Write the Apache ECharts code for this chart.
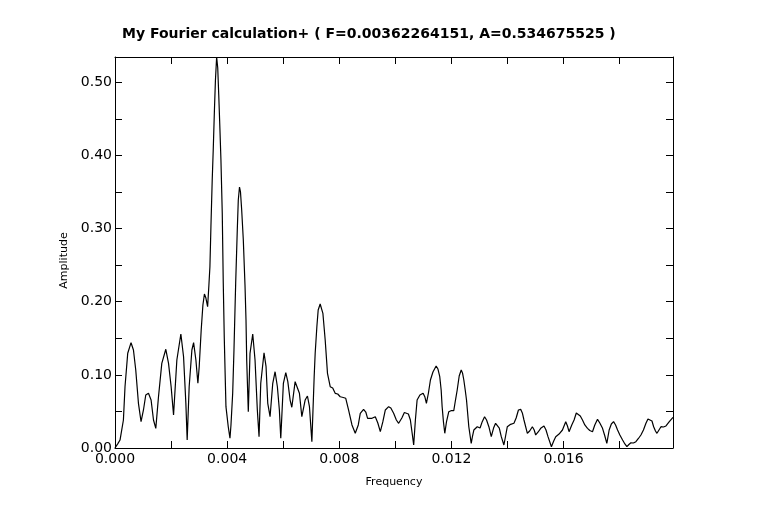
<!DOCTYPE html>
<html>
<head>
<meta charset="utf-8">
<script src="https://cdn.jsdelivr.net/npm/echarts@6/dist/echarts.min.js"></script>
<style>
html,body{margin:0;padding:0;background:#fff;}
#chart{width:757px;height:522px;}
</style>
</head>
<body>
<div id="chart"></div>
<script>
var titleText = 'My Fourier calculation+ ( F=0.00362264151, A=0.534675525 )';
var xName = 'Frequency';
var yName = 'Amplitude';
var xMax = 0.0199;
var yMax = 0.534676;

var freq = [
0.000000,0.000107,0.000179,0.000300,0.000357,0.000454,0.000572,0.000658,0.000740,0.000836,
0.000929,0.001015,0.001097,0.001194,0.001287,0.001373,0.001455,0.001551,0.001669,0.001812,
0.001909,0.002002,0.002088,0.002206,0.002349,0.002445,0.002527,0.002574,0.002645,0.002742,
0.002803,0.002885,0.002956,0.003003,0.003074,0.003135,0.003189,0.003242,0.003303,0.003349,
0.003385,0.003421,0.003467,0.003503,0.003546,0.003582,0.003625,0.003664,0.003700,0.003743,
0.003778,0.003825,0.003861,0.003896,0.003929,0.003957,0.004039,0.004100,0.004136,0.004197,
0.004243,0.004279,0.004304,0.004361,0.004397,0.004440,0.004475,0.004518,0.004576,0.004636,
0.004672,0.004697,0.004754,0.004815,0.004912,0.004994,0.005076,0.005137,0.005198,0.005315,
0.005387,0.005448,0.005530,0.005626,0.005709,0.005791,0.005862,0.005912,0.006005,0.006091,
0.006163,0.006245,0.006306,0.006424,0.006484,0.006577,0.006663,0.006781,0.006863,0.006935,
0.007021,0.007103,0.007139,0.007199,0.007246,0.007317,0.007364,0.007414,0.007496,0.007578,
0.007675,0.007764,0.007853,0.007943,0.008032,0.008139,0.008229,0.008329,0.008451,0.008568,
0.008676,0.008747,0.008865,0.008944,0.009008,0.009165,0.009283,0.009373,0.009462,0.009551,
0.009641,0.009759,0.009837,0.009937,0.010034,0.010116,0.010230,0.010320,0.010391,0.010463,
0.010534,0.010606,0.010652,0.010713,0.010774,0.010874,0.010988,0.011053,0.011106,0.011178,
0.011249,0.011339,0.011453,0.011518,0.011582,0.011632,0.011667,0.011714,0.011761,0.011821,
0.011904,0.012000,0.012082,0.012143,0.012204,0.012275,0.012347,0.012393,0.012440,0.012490,
0.012536,0.012618,0.012704,0.012751,0.012797,0.012919,0.013019,0.013097,0.013180,0.013251,
0.013333,0.013419,0.013501,0.013573,0.013633,0.013705,0.013776,0.013869,0.013930,0.013991,
0.014109,0.014227,0.014306,0.014388,0.014467,0.014527,0.014585,0.014706,0.014788,0.014885,
0.014950,0.015003,0.015092,0.015181,0.015299,0.015371,0.015442,0.015564,0.015646,0.015718,
0.015836,0.015957,0.016075,0.016136,0.016193,0.016290,0.016372,0.016451,0.016515,0.016594,
0.016672,0.016755,0.016851,0.016933,0.017029,0.017111,0.017208,0.017290,0.017387,0.017469,
0.017540,0.017623,0.017701,0.017780,0.017852,0.017923,0.018005,0.018102,0.018184,0.018256,
0.018327,0.018399,0.018488,0.018577,0.018667,0.018756,0.018846,0.018935,0.019007,0.019078,
0.019150,0.019210,0.019275,0.019328,0.019400,0.019471,0.019560,0.019650,0.019768,0.019900
];

var amp = [
0.0000,0.0064,0.0109,0.0383,0.0838,0.1295,0.1440,0.1340,0.1067,0.0611,
0.0360,0.0520,0.0725,0.0748,0.0656,0.0383,0.0269,0.0701,0.1158,0.1350,
0.1158,0.0838,0.0451,0.1203,0.1559,0.1248,0.0611,0.0109,0.0838,0.1340,
0.1440,0.1203,0.0885,0.1112,0.1614,0.1955,0.2106,0.2051,0.1932,0.2229,
0.2479,0.3026,0.3665,0.4075,0.4622,0.5032,0.5347,0.5196,0.4827,0.4348,
0.3938,0.3213,0.2256,0.1522,0.0998,0.0565,0.0291,0.0133,0.0315,0.0748,
0.1340,0.1887,0.2256,0.2981,0.3391,0.3569,0.3501,0.3254,0.2844,0.2229,
0.1750,0.1203,0.0496,0.1295,0.1559,0.1203,0.0520,0.0155,0.0885,0.1303,
0.1112,0.0611,0.0428,0.0885,0.1043,0.0838,0.0520,0.0133,0.0885,0.1030,
0.0907,0.0656,0.0557,0.0907,0.0930,0.0748,0.0428,0.0656,0.0711,0.0565,
0.0086,0.0975,0.1295,0.1659,0.1887,0.1969,0.1942,0.1842,0.1477,0.1021,
0.0838,0.0820,0.0748,0.0738,0.0701,0.0691,0.0680,0.0520,0.0315,0.0201,
0.0315,0.0474,0.0529,0.0492,0.0406,0.0406,0.0428,0.0342,0.0223,0.0356,
0.0520,0.0565,0.0547,0.0474,0.0383,0.0338,0.0410,0.0485,0.0506,0.0465,
0.0383,0.0178,0.0041,0.0383,0.0656,0.0725,0.0748,0.0697,0.0611,0.0752,
0.0930,0.1039,0.1121,0.1080,0.0975,0.0793,0.0565,0.0356,0.0201,0.0356,
0.0496,0.0513,0.0510,0.0656,0.0793,0.0985,0.1067,0.1026,0.0930,0.0793,
0.0656,0.0291,0.0064,0.0164,0.0246,0.0291,0.0273,0.0360,0.0428,0.0383,
0.0291,0.0155,0.0273,0.0338,0.0360,0.0273,0.0155,0.0041,0.0164,0.0291,
0.0324,0.0338,0.0410,0.0520,0.0529,0.0479,0.0383,0.0201,0.0232,0.0291,
0.0246,0.0178,0.0219,0.0269,0.0301,0.0246,0.0155,0.0018,0.0096,0.0155,
0.0191,0.0246,0.0360,0.0301,0.0223,0.0315,0.0383,0.0479,0.0496,0.0438,
0.0383,0.0315,0.0269,0.0239,0.0223,0.0315,0.0392,0.0342,0.0269,0.0164,
0.0064,0.0246,0.0328,0.0360,0.0315,0.0246,0.0178,0.0109,0.0055,0.0018,
0.0048,0.0072,0.0068,0.0086,0.0130,0.0178,0.0246,0.0338,0.0397,0.0414,
0.0369,0.0291,0.0232,0.0201,0.0246,0.0291,0.0287,0.0301,0.0360,0.0420
];

var xMajor = 0.004, xMinor = 0.002;
var yMajor = 0.1, yMinor = 0.05;

function isMultiple(v, step) {
  var r = v / step;
  return Math.abs(r - Math.round(r)) < 1e-6;
}

var fontFam = 'DejaVu Sans';
var axisCol = '#000';

var chart = echarts.init(document.getElementById('chart'), null, {renderer: 'canvas'});

function makeX(pos, showLabel) {
  return {
    type: 'value', position: pos, min: 0, max: xMax, interval: xMinor,
    name: showLabel ? xName : '', nameLocation: 'middle', nameGap: 29,
    nameTextStyle: {fontFamily: fontFam, fontSize: 11, color: '#000'},
    axisLine: {show: true, onZero: false, lineStyle: {color: axisCol, width: 1}},
    axisTick: {show: true, inside: true, length: 7, lineStyle: {color: axisCol}},
    splitLine: {show: false},
    axisLabel: {
      show: showLabel, margin: 4, fontFamily: fontFam, fontSize: 14, color: '#000',
      showMaxLabel: true, showMinLabel: true,
      formatter: function (v) { return isMultiple(v, xMajor) ? v.toFixed(3) : ''; }
    }
  };
}
function makeY(pos, showLabel) {
  return {
    type: 'value', position: pos, min: 0, max: yMax, interval: yMinor,
    name: showLabel ? yName : '', nameLocation: 'middle', nameGap: 41,
    nameTextStyle: {fontFamily: fontFam, fontSize: 11, color: '#000', padding: [0, 16, 0, 0]},
    axisLine: {show: true, onZero: false, lineStyle: {color: axisCol, width: 1}},
    axisTick: {show: true, inside: true, length: 7, lineStyle: {color: axisCol}},
    splitLine: {show: false},
    axisLabel: {
      show: showLabel, margin: 3, fontFamily: fontFam, fontSize: 14, color: '#000',
      formatter: function (v) { return isMultiple(v, yMajor) ? v.toFixed(2) : ''; }
    }
  };
}

var option = {
  animation: false,
  backgroundColor: '#fff',
  title: {
    text: titleText, left: 117, top: 22,
    textStyle: {fontFamily: fontFam, fontSize: 14, fontWeight: 'bold', color: '#000'}
  },
  grid: {left: 115, right: 84, top: 57, bottom: 74, containLabel: false},
  xAxis: [makeX('bottom', true), makeX('top', false)],
  yAxis: [makeY('left', true), makeY('right', false)],
  series: [{
    type: 'line',
    xAxisIndex: 0, yAxisIndex: 0,
    data: freq.map(function (f, i) { return [f, amp[i]]; }),
    showSymbol: false,
    lineStyle: {color: '#000', width: 1.2},
    clip: true
  }]
};
chart.setOption(option);
</script>
</body>
</html>
